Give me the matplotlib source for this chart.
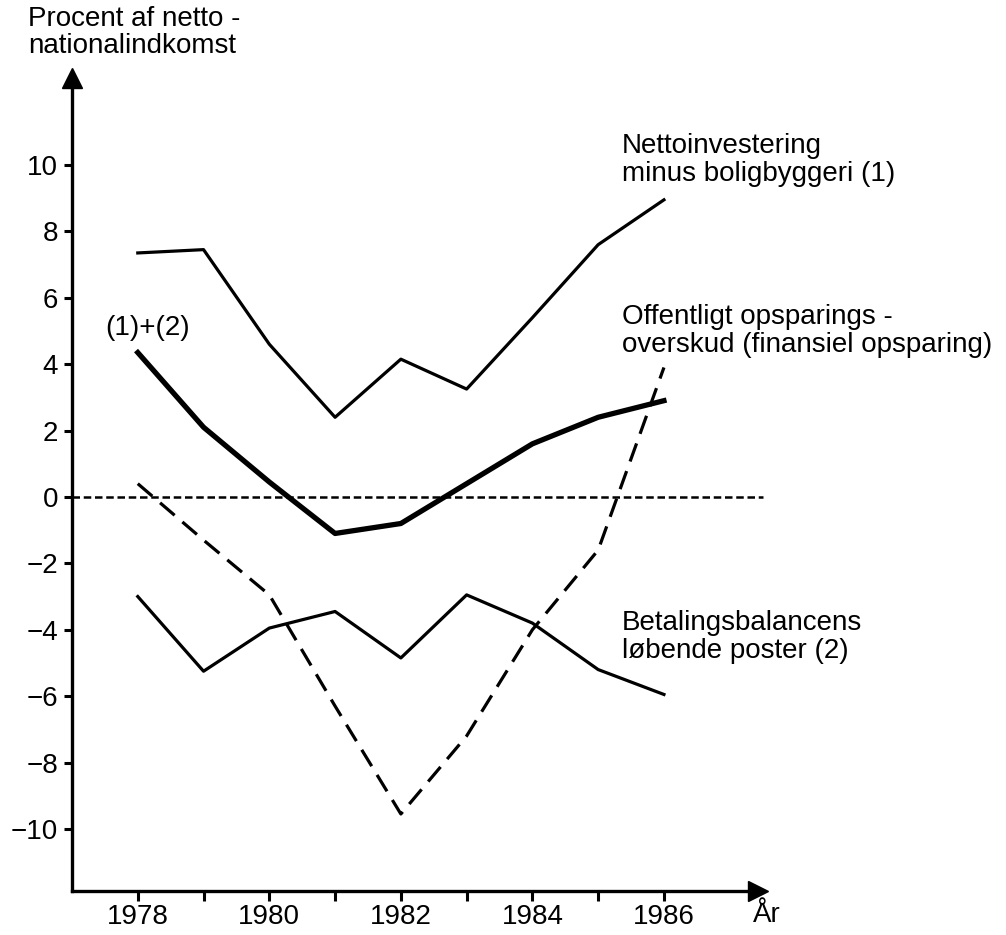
import matplotlib.pyplot as plt
import numpy as np

plt.rcParams['font.family'] = ['Liberation Sans', 'DejaVu Sans']

years = np.arange(1978, 1987)
netto_inv = [7.35, 7.45, 4.6, 2.4, 4.15, 3.25, 5.4, 7.6, 8.95]
sum_1_2 = [4.35, 2.1, 0.45, -1.1, -0.8, 0.4, 1.6, 2.4, 2.9]
betaling = [-3.0, -5.25, -3.95, -3.45, -4.85, -2.95, -3.8, -5.2, -5.95]
offentlig = [0.4, -1.3, -2.95, -6.3, -9.55, -7.2, -4.0, -1.6, 3.9]

year_ticks = [1978, 1980, 1982, 1984, 1986]
y_ticks = [-10, -8, -6, -4, -2, 0, 2, 4, 6, 8, 10]

fs = 20

fig = plt.figure(figsize=(10.06, 9.35), dpi=100)
ax = fig.add_axes([72 / 1006, 1 - 891 / 935, (758 - 72) / 1006, (891 - 78) / 935])
x0, x1 = 1977.0, 1987.43
y0, y1 = -11.87, 12.62
ax.set_xlim(x0, x1)
ax.set_ylim(y0, y1)

for s in ['top', 'right']:
    ax.spines[s].set_visible(False)
for s in ['left', 'bottom']:
    ax.spines[s].set_linewidth(2.4)

# arrow heads on axes
ax.plot(1, 0, marker='>', color='k', markersize=14, transform=ax.transAxes,
        clip_on=False)
ax.plot(0, 1, marker='^', color='k', markersize=14, transform=ax.transAxes,
        clip_on=False)

ax.plot([x0, 1987.5], [0, 0], color='k', lw=1.8, ls=(0, (3, 1.5)), clip_on=False)

ax.plot(years, netto_inv, color='k', lw=2.3)
ax.plot(years, sum_1_2, color='k', lw=3.8)
ax.plot(years, betaling, color='k', lw=2.3)
ax.plot(years, offentlig, color='k', lw=2.3, ls=(0, (6, 3.2)))

ax.set_xticks(year_ticks)
ax.set_xticks(years, minor=True)
ax.set_yticks(y_ticks)
ax.set_yticklabels(['\u2212' + str(-v) if v < 0 else str(v) for v in y_ticks])
ax.tick_params(axis='x', which='both', direction='out', length=7, width=2.2,
               labelsize=fs, pad=2)
ax.tick_params(axis='y', direction='out', length=6, width=2.2, labelsize=fs, pad=4)

ax.text(1985.36, 10.95, 'Nettoinvestering\nminus boligbyggeri (1)', fontsize=fs,
        va='top', ha='left', linespacing=1.1)
ax.text(1985.36, 5.8, 'Offentligt opsparings -\noverskud (finansiel opsparing)',
        fontsize=fs, va='top', ha='left', linespacing=1.1)
ax.text(1985.36, -3.4, 'Betalingsbalancens\nløbende poster (2)', fontsize=fs,
        va='top', ha='left', linespacing=1.1)
ax.text(1977.5, 5.1, '(1)+(2)', fontsize=fs, va='center', ha='left')

fig.text(28 / 1006, 1 - 6 / 935, 'Procent af netto -\nnationalindkomst',
         fontsize=fs, va='top', ha='left', linespacing=1.05)
fig.text(767 / 1006, 1 - 915 / 935, 'År', fontsize=fs, va='center', ha='center')

fig.savefig('out.png', dpi=100)
